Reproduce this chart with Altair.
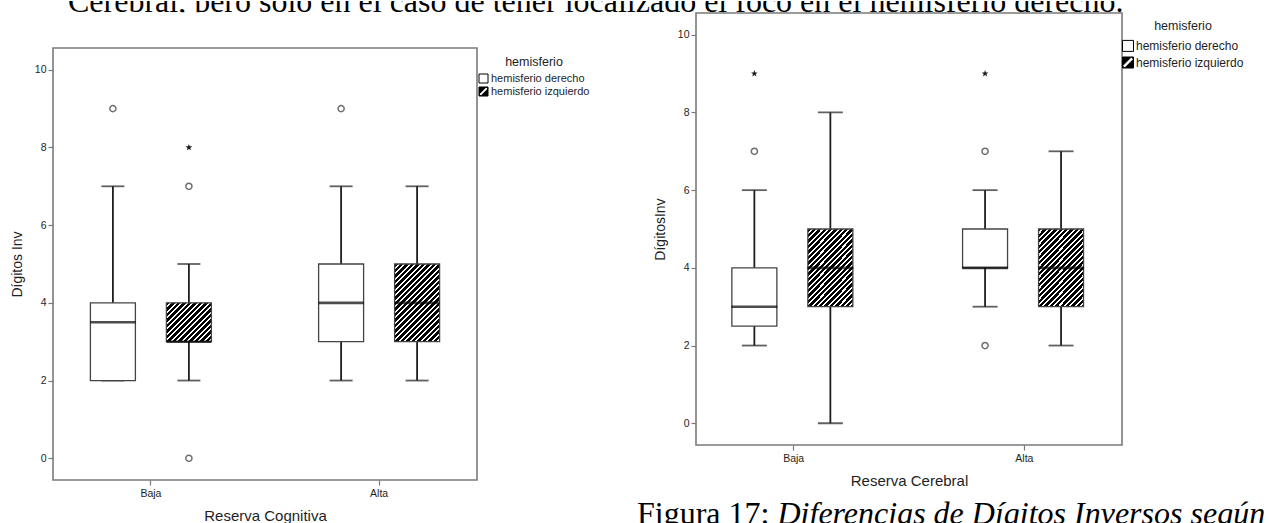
import math

import altair as alt
import pandas as pd

# ---------------------------------------------------------------- data
RESERVA = ["Baja", "Alta"]
HEMISFERIO = ["hemisferio derecho", "hemisferio izquierdo"]
DER, IZQ = HEMISFERIO

TOP_LINE = "Cerebral, pero solo en el caso de tener localizado el foco en el hemisferio derecho."
FIG_NUM = "Figura 17: "
FIG_TEXT = "Diferencias de Dígitos Inversos según"

# Reserva Cognitiva: one entry per box
cog_reserva = ["Baja", "Baja", "Alta", "Alta"]
cog_hemisferio = [DER, IZQ, DER, IZQ]
cog_low = [2, 2, 2, 2]
cog_q1 = [2, 3, 3, 3]
cog_median = [3.5, 3, 4, 4]
cog_q3 = [4, 4, 5, 5]
cog_high = [7, 5, 7, 7]
cog_out_reserva = ["Baja", "Baja", "Baja", "Alta"]
cog_out_hemisferio = [DER, IZQ, IZQ, DER]
cog_out_value = [9, 7, 0, 9]
cog_ext_reserva = ["Baja"]
cog_ext_hemisferio = [IZQ]
cog_ext_value = [8]

# Reserva Cerebral: one entry per box
cer_reserva = ["Baja", "Baja", "Alta", "Alta"]
cer_hemisferio = [DER, IZQ, DER, IZQ]
cer_low = [2, 0, 3, 2]
cer_q1 = [2.5, 3, 4, 3]
cer_median = [3, 4, 4, 4]
cer_q3 = [4, 5, 5, 5]
cer_high = [6, 8, 6, 7]
cer_out_reserva = ["Baja", "Alta", "Alta"]
cer_out_hemisferio = [DER, DER, DER]
cer_out_value = [7, 7, 2]
cer_ext_reserva = ["Baja", "Alta"]
cer_ext_hemisferio = [DER, DER]
cer_ext_value = [9, 9]

Y_TICKS = [0, 2, 4, 6, 8, 10]
Y_DOMAIN = [-0.56, 10.56]

# ---------------------------------------------------------------- styles
SANS = "Liberation Sans"
SERIF = "Liberation Serif"
INK = "#1e1e1e"
FRAME = "#7a7a7a"
BOX_EDGE = "#444444"

SQUARE = "M-1,-1H1V1H-1Z"
# square with a diagonal white slit (reverse winding cuts it out)
HATCH_SQUARE = SQUARE + "M-1,0.6L-0.6,1L1,-0.6L0.6,-1Z"


def star_path(points=5, inner=0.42):
    coords = []
    for k in range(points * 2):
        r = 1.0 if k % 2 == 0 else inner
        a = -math.pi / 2 + k * math.pi / points
        coords.append(f"{r * math.cos(a):.3f},{r * math.sin(a):.3f}")
    return "M" + "L".join(coords) + "Z"


STAR = star_path()


def hatch(w, h, period=5.5, ink=0.62):
    """Black/white '/' stripes at 45 degrees for a w x h px rectangle."""
    span = w + h
    s = span / (w * w + h * h)
    step = period / span
    stops = []
    t = 0.0
    while t < 1.0:
        mid = round(min(t + step * ink, 1.0), 5)
        end = round(min(t + step, 1.0), 5)
        start = round(t, 5)
        stops += [
            alt.GradientStop(color="black", offset=start),
            alt.GradientStop(color="black", offset=mid),
            alt.GradientStop(color="white", offset=mid),
            alt.GradientStop(color="white", offset=end),
        ]
        t += step
    return alt.LinearGradient(gradient="linear", stops=stops,
                              x1=0, y1=0, x2=round(w * s, 5), y2=round(h * s, 5))


def panel(boxes, outliers, extremes, x_title, y_title, width, height,
          band_pad, offset_pad, box_w, cap_w, legend_opts, extra=()):
    ys = alt.Scale(domain=Y_DOMAIN, nice=False, zero=False)
    ya = alt.Axis(values=Y_TICKS, title=y_title, grid=False, domain=False,
                  tickSize=5, tickColor=FRAME, tickWidth=1.2,
                  labelFont=SANS, labelFontSize=10.5, labelColor=INK, labelPadding=2,
                  titleFont=SANS, titleFontSize=14, titleFontWeight="normal",
                  titleColor=INK, titlePadding=9.5)
    xs = alt.Scale(paddingInner=band_pad[0], paddingOuter=band_pad[1])
    xa = alt.Axis(title=x_title, labelAngle=0, domain=False, grid=False,
                  tickSize=5, tickColor=FRAME, tickWidth=1.2,
                  labelFont=SANS, labelFontSize=10.5, labelColor=INK, labelPadding=3.5,
                  titleFont=SANS, titleFontSize=15, titleFontWeight="normal",
                  titleColor=INK, titlePadding=9)
    os_ = alt.Scale(paddingInner=offset_pad[0], paddingOuter=offset_pad[1])

    def X():
        return alt.X("reserva:N", sort=RESERVA, scale=xs, axis=xa)

    def XO():
        return alt.XOffset("hemisferio:N", sort=HEMISFERIO, scale=os_)

    def Y(field):
        return alt.Y(f"{field}:Q", scale=ys, axis=ya)

    base = alt.Chart(boxes)
    px_per_unit = height / (Y_DOMAIN[1] - Y_DOMAIN[0])

    layers = [
        base.mark_rule(color=INK, strokeWidth=1.8).encode(
            x=X(), xOffset=XO(), y=Y("low"), y2="high:Q"),
        base.mark_tick(size=cap_w, thickness=1.8, color=INK).encode(
            x=X(), xOffset=XO(), y=Y("low")),
        base.mark_tick(size=cap_w, thickness=1.8, color=INK).encode(
            x=X(), xOffset=XO(), y=Y("high")),
        base.transform_filter(alt.datum.hemisferio == DER)
        .mark_bar(fill="white", stroke=BOX_EDGE, strokeWidth=1.3)
        .encode(x=X(), xOffset=XO(), y=Y("q1"), y2="q3:Q"),
    ]
    for _, row in boxes[boxes["hemisferio"] == IZQ].iterrows():
        h = (row["q3"] - row["q1"]) * px_per_unit
        layers.append(
            base.transform_filter(
                (alt.datum.hemisferio == IZQ) & (alt.datum.reserva == row["reserva"]))
            .mark_bar(fill=hatch(box_w, h), stroke=BOX_EDGE, strokeWidth=1.3)
            .encode(x=X(), xOffset=XO(), y=Y("q1"), y2="q3:Q"))
    layers += [
        base.mark_tick(size=box_w, thickness=2.6, color="black").encode(
            x=X(), xOffset=XO(), y=Y("median")),
        alt.Chart(outliers).mark_point(shape="circle", size=38, strokeWidth=1.5,
                                       color="#333333", filled=False).encode(
            x=X(), xOffset=XO(), y=Y("valor")),
        alt.Chart(extremes).mark_point(shape=STAR, size=50, filled=True,
                                       color=INK, opacity=1).encode(
            x=X(), xOffset=XO(), y=Y("valor")),
    ]
    leg = alt.Legend(title="hemisferio", orient="none", padding=0,
                     titleAnchor="middle", titleFont=SANS, titleFontWeight="normal",
                     titleColor=INK, labelFont=SANS, labelColor=INK,
                     symbolStrokeWidth=1, labelLimit=300, **legend_opts)
    layers.append(
        base.transform_filter("false")
        .mark_point(filled=True, strokeWidth=1, opacity=1)
        .encode(
            x=X(), xOffset=XO(), y=Y("median"),
            shape=alt.Shape("hemisferio:N",
                            scale=alt.Scale(domain=HEMISFERIO, range=[SQUARE, HATCH_SQUARE]),
                            legend=leg),
            fill=alt.Fill("hemisferio:N",
                          scale=alt.Scale(domain=HEMISFERIO, range=["white", "black"]),
                          legend=leg),
            stroke=alt.Stroke("hemisferio:N",
                              scale=alt.Scale(domain=HEMISFERIO, range=["black", "black"]),
                              legend=leg),
        ))
    layers += list(extra)
    return alt.layer(*layers).properties(
        width=width, height=height,
        view=alt.ViewBackground(stroke=FRAME, strokeWidth=1.6))


def frame(res, hem, low, q1, med, q3, high):
    return pd.DataFrame({"reserva": res, "hemisferio": hem, "low": low, "q1": q1,
                         "median": med, "q3": q3, "high": high})


def points(res, hem, val):
    return pd.DataFrame({"reserva": res, "hemisferio": hem, "valor": val})


def keep_own_legends(c):
    return c.resolve_scale(shape="independent", fill="independent", stroke="independent") \
            .resolve_legend(shape="independent", fill="independent", stroke="independent")


cog = panel(
    frame(cog_reserva, cog_hemisferio, cog_low, cog_q1, cog_median, cog_q3, cog_high),
    points(cog_out_reserva, cog_out_hemisferio, cog_out_value),
    points(cog_ext_reserva, cog_ext_hemisferio, cog_ext_value),
    "Reserva Cognitiva", "Dígitos Inv", 424, 432,
    (0.334, 0.096), (0.408, 0.204), 45, 23,
    dict(legendX=425, legendY=8, titleFontSize=12.5, titlePadding=4.5,
         labelFontSize=11, labelOffset=2, symbolSize=81, rowPadding=0),
)

caption = pd.DataFrame({"num": [FIG_NUM], "texto": [FIG_TEXT]})
caption_layers = [
    alt.Chart(caption).mark_text(font=SERIF, fontSize=32, align="left",
                                 baseline="alphabetic", color="black")
    .encode(x=alt.value(-59), y=alt.value(510.5), text="num:N"),
    alt.Chart(caption).mark_text(font=SERIF, fontSize=32, fontStyle="italic",
                                 align="left", baseline="alphabetic", color="black")
    .encode(x=alt.value(81.5), y=alt.value(510.5), text="texto:N"),
]

cer = panel(
    frame(cer_reserva, cer_hemisferio, cer_low, cer_q1, cer_median, cer_q3, cer_high),
    points(cer_out_reserva, cer_out_hemisferio, cer_out_value),
    points(cer_ext_reserva, cer_ext_hemisferio, cer_ext_value),
    "Reserva Cerebral", "DígitosInv", 426, 432,
    (0.33, 0.0883), (0.405, 0.2025), 46, 25,
    dict(legendX=426, legendY=7.4, titleFontSize=12.5, titlePadding=7,
         labelFontSize=12, labelOffset=2, symbolSize=121, rowPadding=0.6),
    extra=caption_layers,
)

# running text above the figures (only its lower part shows)
top_text = alt.Chart(pd.DataFrame({"texto": [TOP_LINE]})).mark_text(
    font=SERIF, fontSize=32, align="left", baseline="alphabetic",
    color="black", clip=True,
).encode(x=alt.value(15), y=alt.value(11), text="texto:N").properties(width=1100, height=11.3)

spacer = alt.Chart(pd.DataFrame({"texto": [""]})).mark_text().encode(
    x=alt.value(0), y=alt.value(0), text="texto:N").properties(width=10, height=32.6)

left_column = keep_own_legends(alt.vconcat(spacer, cog, spacing=0))
row = keep_own_legends(alt.hconcat(left_column, cer, spacing=45))

# the clipped line still reserves its descent below the strip; pull the panels up
chart = alt.vconcat(top_text, row, spacing=-10.2).properties(
    padding={"left": 10, "top": 0, "right": 0, "bottom": 0},
).configure(font=SANS).configure_view(stroke="transparent")

chart.save("out.html", embed_options={"renderer": "svg", "actions": False})
